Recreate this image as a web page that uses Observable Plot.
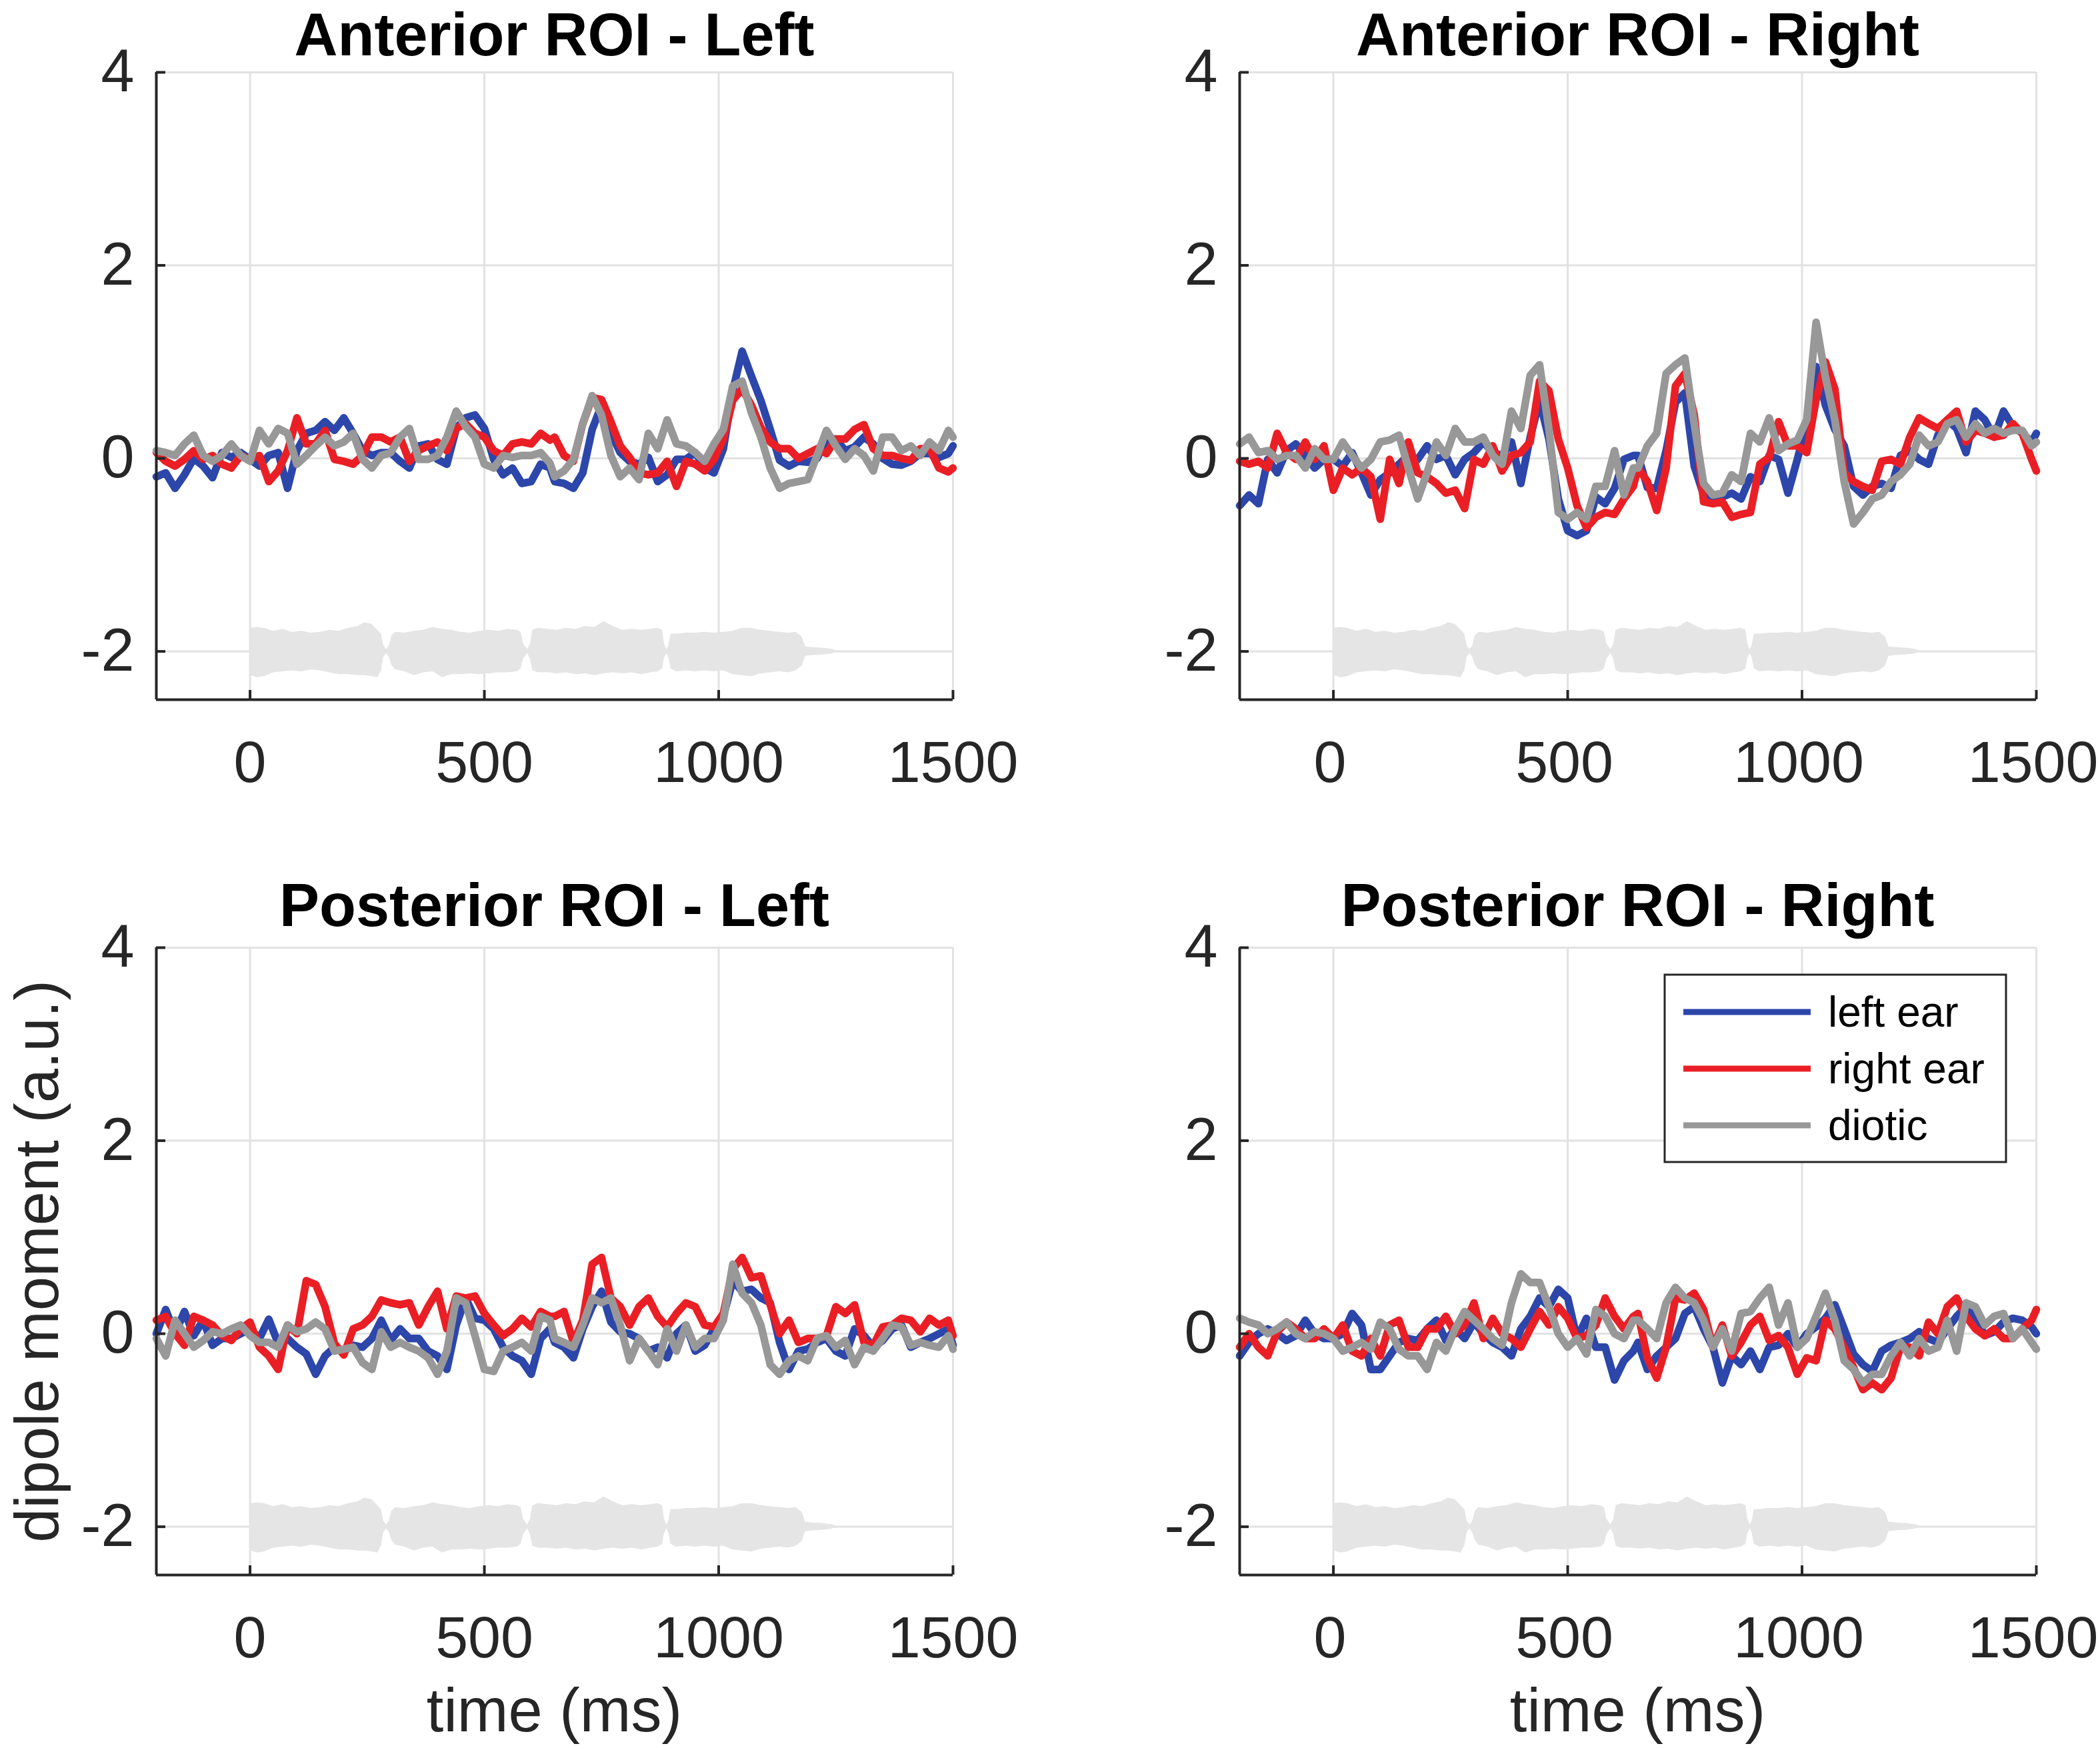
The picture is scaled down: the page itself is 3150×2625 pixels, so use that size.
<!DOCTYPE html>
<html><head><meta charset="utf-8">
<script src="https://cdn.jsdelivr.net/npm/d3@7"></script>
<script src="https://cdn.jsdelivr.net/npm/@observablehq/plot@0.6"></script>
<style>
html,body{margin:0;padding:0;background:#fff;}
#page{position:relative;width:3150px;height:2625px;background:#fff;overflow:hidden;font-family:"Liberation Sans",Arial,Helvetica,sans-serif;}
.panel{position:absolute;}
#overlay{position:absolute;left:0;top:0;}
</style></head><body><div id="page"></div>
<script>
// ---------- data ----------
const xDomain = [-200, 1500];
const yDomain = [-2.5, 4];
const xTicks = [0, 500, 1000, 1500];
const yTicks = [-2, 0, 2, 4];
const seriesNames = ["left ear", "right ear", "diotic"];
const panelTitles = ["Anterior ROI - Left", "Anterior ROI - Right", "Posterior ROI - Left", "Posterior ROI - Right"];
const yLabel = "dipole moment (a.u.)";
const xLabel = "time (ms)";

const T = [-200,-180,-160,-140,-120,-100,-80,-60,-40,-20,
0,20,40,60,80,100,120,140,160,180,
200,220,240,260,280,300,320,340,360,380,
400,420,440,460,480,500,520,540,560,580,
600,620,640,
650,670,690,710,730,750,770,790,810,830,
850,870,890,910,930,950,970,990,1010,1030,
1050,1070,1090,1110,1130,1150,1170,1190,1210,1230,
1250,1270,1290,1310,1330,1350,1370,1390,1410,1430,
1450,1470,1490,
1500];

const antL_leftEar = [-0.19,-0.15,-0.31,-0.17,0.00,-0.08,-0.20,0.06,0.01,0.06,
-0.01,-0.08,0.03,0.06,-0.31,0.08,0.26,0.29,0.38,0.29,
0.42,0.26,0.08,0.03,0.06,0.06,-0.03,-0.10,0.13,0.15,
-0.01,-0.06,0.31,0.42,0.45,0.31,-0.01,-0.17,-0.10,-0.26,
-0.24,-0.06,-0.10,
-0.24,-0.26,-0.31,-0.15,0.30,0.55,0.26,0.06,-0.03,-0.06,
0.01,-0.24,-0.17,-0.01,-0.01,0.06,-0.10,-0.15,0.10,0.70,
1.11,0.85,0.60,0.30,-0.02,-0.08,-0.03,-0.04,0.00,0.20,
0.20,0.08,0.12,0.22,0.15,0.00,-0.06,-0.07,-0.03,0.05,
0.05,0.01,0.05,
0.13];
const antL_rightEar = [0.06,-0.03,-0.08,-0.01,0.08,-0.01,0.03,-0.06,-0.10,0.03,
-0.01,0.03,-0.24,-0.13,0.08,0.42,0.15,0.15,0.29,-0.01,
-0.03,-0.06,0.03,0.22,0.22,0.17,0.22,-0.03,0.08,0.13,
0.17,0.08,0.31,0.36,0.26,0.22,0.08,0.03,0.15,0.17,
0.15,0.26,0.19,
0.22,0.03,-0.03,0.36,0.63,0.61,0.38,0.13,0.01,-0.15,
-0.17,-0.15,-0.03,-0.29,-0.03,-0.06,-0.13,-0.01,0.20,0.60,
0.72,0.55,0.32,0.17,0.10,0.10,0.00,0.05,0.10,0.05,
0.20,0.20,0.30,0.35,0.10,0.03,0.03,0.00,-0.02,0.10,
0.10,-0.10,-0.14,
-0.10];
const antL_diotic = [0.08,0.06,0.03,0.15,0.24,0.03,-0.03,0.03,0.15,0.03,
-0.03,0.29,0.15,0.31,0.26,-0.06,0.03,0.13,0.22,0.13,
0.17,0.26,-0.01,-0.10,0.03,0.06,0.22,0.31,-0.01,-0.01,
0.03,0.22,0.49,0.33,0.22,-0.06,-0.10,0.03,0.01,0.03,
0.03,0.06,-0.05,
-0.19,-0.13,-0.01,0.36,0.65,0.45,0.03,-0.19,-0.10,-0.22,
0.26,0.10,0.40,0.15,0.13,0.06,-0.03,0.15,0.30,0.75,
0.80,0.47,0.22,-0.10,-0.31,-0.26,-0.24,-0.22,0.03,0.29,
0.13,-0.01,0.10,0.03,-0.13,0.22,0.22,0.08,0.13,0.03,
0.17,0.08,0.29,
0.22];

const antR_leftEar = [-0.49,-0.38,-0.47,-0.01,-0.15,0.08,0.15,0.03,-0.10,-0.01,
-0.01,-0.08,0.06,-0.15,-0.38,-0.22,-0.15,-0.06,0.03,-0.01,
0.13,-0.01,0.03,-0.17,-0.01,0.06,0.17,0.06,0.03,0.17,
-0.26,0.22,0.60,0.20,-0.42,-0.75,-0.80,-0.75,-0.40,-0.47,
-0.31,-0.01,0.03,
0.03,-0.30,-0.31,0.08,0.58,0.68,-0.08,-0.38,-0.42,-0.40,
-0.36,-0.42,-0.19,-0.24,0.03,-0.01,-0.36,-0.01,0.36,0.95,
0.55,0.30,0.13,-0.29,-0.38,-0.29,-0.26,-0.31,0.03,0.08,
-0.01,-0.06,0.24,0.40,0.31,0.06,0.49,0.40,0.22,0.49,
0.33,0.26,0.17,
0.26];
const antR_rightEar = [-0.03,-0.06,-0.03,-0.10,0.26,0.06,-0.01,0.17,-0.01,0.13,
-0.33,-0.10,-0.17,-0.10,-0.19,-0.63,-0.01,-0.26,0.17,-0.15,
-0.19,-0.26,-0.36,-0.33,-0.52,-0.01,-0.06,0.13,-0.13,0.03,
0.06,0.17,0.80,0.70,0.20,-0.10,-0.49,-0.72,-0.61,-0.56,
-0.58,-0.42,-0.29,
-0.10,-0.24,-0.54,-0.10,0.75,0.88,0.45,-0.45,-0.47,-0.45,
-0.61,-0.58,-0.56,-0.06,0.01,0.38,0.13,0.13,0.06,0.61,
1.00,0.72,-0.15,-0.24,-0.29,-0.33,-0.03,-0.01,-0.06,0.22,
0.42,0.36,0.31,0.40,0.49,0.17,0.29,0.26,0.22,0.24,
0.36,0.26,-0.01,
-0.13];
const antR_diotic = [0.15,0.22,0.06,0.08,-0.01,0.03,0.03,-0.10,0.10,-0.01,
-0.01,0.17,0.03,-0.10,-0.01,0.17,0.19,0.24,-0.10,-0.42,
-0.15,0.17,0.03,0.31,0.17,0.17,0.22,0.03,-0.06,0.49,
0.31,0.86,0.97,0.30,-0.56,-0.63,-0.56,-0.63,-0.29,-0.29,
0.08,-0.38,-0.10,
-0.10,0.13,0.26,0.88,0.97,1.04,0.36,-0.26,-0.38,-0.36,
-0.17,-0.24,0.26,0.17,0.42,0.08,0.15,0.19,0.40,1.41,
0.84,0.40,-0.24,-0.68,-0.56,-0.42,-0.38,-0.24,-0.17,-0.06,
0.24,0.13,0.17,0.36,0.40,0.22,0.36,0.26,0.31,0.26,
0.29,0.29,0.13,
0.17];

const posL_leftEar = [0.00,0.25,0.00,0.23,-0.02,0.14,-0.12,-0.05,-0.05,0.00,
0.05,-0.05,0.15,-0.10,-0.05,-0.14,-0.21,-0.42,-0.23,-0.14,
-0.18,-0.12,-0.14,-0.05,0.14,-0.07,0.05,-0.05,-0.05,-0.18,
-0.23,-0.37,0.09,0.37,0.16,0.14,0.05,-0.14,-0.23,-0.28,
-0.42,-0.05,0.05,
-0.09,-0.14,-0.25,0.05,0.28,0.44,0.12,0.02,0.00,-0.05,
-0.18,-0.14,-0.25,0.00,0.09,-0.18,-0.12,0.05,0.18,0.55,
0.44,0.46,0.37,0.32,-0.09,-0.37,-0.18,-0.16,-0.09,-0.05,
-0.18,-0.23,0.05,-0.02,-0.14,-0.07,0.05,0.09,-0.14,-0.09,
-0.05,0.00,0.05,
-0.12];
const posL_rightEar = [0.14,0.18,0.00,-0.12,0.18,0.14,0.09,-0.02,-0.07,0.05,
0.12,-0.14,-0.23,-0.37,0.09,0.00,0.55,0.51,0.28,-0.10,
-0.22,0.05,0.09,0.18,0.35,0.32,0.30,0.32,0.09,0.28,
0.44,0.05,0.39,0.37,0.39,0.21,0.09,-0.02,0.05,0.16,
0.07,0.23,0.18,
0.18,0.23,-0.09,0.14,0.72,0.79,0.37,0.28,0.09,0.28,
0.37,0.18,0.07,0.21,0.32,0.28,0.09,0.07,0.21,0.67,
0.79,0.58,0.60,0.30,0.00,0.14,-0.09,-0.05,-0.05,-0.02,
0.28,0.21,0.30,-0.09,-0.12,0.07,0.09,0.16,0.14,0.02,
0.16,0.09,0.14,
-0.02];
const posL_diotic = [-0.05,-0.23,0.14,0.00,-0.14,-0.07,0.02,0.00,0.05,0.09,
-0.02,-0.09,-0.09,-0.14,0.09,0.02,0.05,0.12,0.05,-0.18,
-0.16,-0.14,-0.30,-0.37,0.02,-0.14,-0.09,-0.14,-0.18,-0.25,
-0.42,-0.18,0.37,0.32,-0.02,-0.37,-0.39,-0.18,-0.14,-0.09,
-0.18,0.18,0.14,
-0.05,-0.09,-0.14,0.09,0.37,0.32,0.37,0.09,-0.28,-0.05,
-0.18,-0.32,0.05,-0.18,0.09,-0.14,-0.05,-0.05,0.14,0.72,
0.42,0.32,0.09,-0.32,-0.42,-0.28,-0.23,-0.28,-0.05,-0.02,
-0.14,-0.07,-0.32,-0.14,-0.18,-0.05,0.09,0.07,-0.12,-0.09,
-0.12,-0.14,-0.02,
-0.16];

const posR_leftEar = [-0.23,-0.09,0.00,0.05,0.00,-0.07,-0.02,0.14,0.00,-0.05,
-0.05,0.00,0.21,0.09,-0.37,-0.37,-0.23,-0.09,-0.05,-0.07,
0.05,0.14,-0.07,0.05,-0.05,0.12,0.00,-0.09,-0.14,-0.23,
0.05,0.18,0.37,0.28,0.46,0.37,-0.05,0.16,-0.14,-0.14,
-0.48,-0.28,-0.18,
-0.09,-0.37,-0.23,-0.14,-0.05,0.21,0.28,0.05,-0.14,-0.51,
-0.23,-0.32,-0.18,-0.37,-0.14,-0.12,0.00,-0.14,0.00,0.07,
0.16,0.30,0.05,-0.21,-0.32,-0.39,-0.18,-0.12,-0.09,-0.05,
0.02,-0.05,-0.09,0.05,0.18,0.28,0.18,-0.02,0.02,0.12,
0.16,0.14,0.07,
0.00];
const posR_rightEar = [-0.14,0.00,-0.14,-0.23,0.02,0.12,0.05,-0.05,-0.05,0.05,
-0.05,0.09,-0.18,-0.23,-0.05,-0.23,0.09,0.14,-0.14,-0.14,
0.05,0.05,0.18,0.00,0.09,0.32,-0.05,0.16,0.00,-0.05,
-0.14,0.05,0.23,0.09,0.28,0.16,-0.05,-0.02,0.09,0.37,
0.18,0.05,0.18,
0.21,-0.25,-0.46,-0.14,0.37,0.35,0.42,0.25,-0.14,0.09,
-0.23,-0.09,0.09,0.18,-0.07,-0.02,-0.14,-0.42,-0.25,-0.28,
0.14,0.05,-0.14,-0.35,-0.58,-0.51,-0.58,-0.46,-0.14,-0.14,
-0.23,0.12,0.00,0.28,0.37,0.18,0.05,-0.02,0.05,-0.05,
-0.05,0.05,0.14,
0.25];
const posR_diotic = [0.16,0.12,0.09,0.00,0.05,0.12,0.00,-0.05,0.02,0.00,
-0.05,-0.18,-0.14,-0.09,-0.16,0.12,0.05,-0.16,-0.23,-0.23,
-0.37,-0.09,-0.18,0.05,0.23,0.14,0.05,-0.05,-0.12,0.32,
0.62,0.53,0.53,0.28,0.00,-0.14,-0.05,-0.21,0.25,0.18,
0.00,-0.05,0.14,
0.14,0.05,-0.05,0.32,0.48,0.37,0.32,0.14,-0.14,0.05,
-0.18,0.21,0.23,0.37,0.48,0.09,0.32,-0.14,-0.05,0.18,
0.42,0.14,-0.28,-0.37,-0.51,-0.42,-0.42,-0.23,-0.09,-0.23,
-0.05,-0.18,-0.14,0.14,-0.18,0.32,0.28,0.09,0.18,0.21,
-0.05,0.05,-0.09,
-0.16];

// stimulus waveform envelope (drawn around baseline -2)
const envBase = -2;
const envT = [0,2,15,30,50,70,90,110,130,150,
170,190,210,230,245,260,272,280,285,291,
297,302,310,330,350,370,390,410,430,450,
470,490,510,530,550,570,578,583,592,598,
603,615,635,655,675,695,715,735,755,775,
795,815,835,855,870,880,884,889,893,898,
910,930,950,970,990,1010,1030,1050,1070,1090,
1110,1130,1150,1165,1178,1185,1200,1220,1240,1250];
const envHi = [0.02,0.24,0.25,0.24,0.21,0.23,0.20,0.21,0.19,0.20,
0.22,0.21,0.24,0.26,0.30,0.28,0.22,0.18,0.06,0.02,
0.06,0.16,0.20,0.19,0.21,0.22,0.25,0.23,0.22,0.20,
0.19,0.21,0.22,0.21,0.23,0.22,0.20,0.08,0.02,0.08,
0.22,0.24,0.23,0.22,0.24,0.23,0.26,0.25,0.31,0.26,
0.22,0.23,0.22,0.23,0.24,0.22,0.08,0.02,0.06,0.18,
0.18,0.19,0.19,0.20,0.19,0.20,0.21,0.24,0.24,0.22,
0.21,0.20,0.19,0.20,0.15,0.05,0.04,0.035,0.025,0.01];
const envLo = [-0.02,-0.25,-0.27,-0.26,-0.22,-0.21,-0.20,-0.21,-0.19,-0.20,
-0.22,-0.24,-0.24,-0.25,-0.25,-0.26,-0.27,-0.20,-0.06,-0.02,
-0.06,-0.14,-0.19,-0.21,-0.25,-0.22,-0.21,-0.27,-0.24,-0.24,
-0.23,-0.24,-0.23,-0.22,-0.22,-0.21,-0.18,-0.08,-0.02,-0.08,
-0.20,-0.22,-0.22,-0.23,-0.22,-0.24,-0.23,-0.25,-0.23,-0.22,
-0.23,-0.22,-0.24,-0.22,-0.21,-0.18,-0.07,-0.02,-0.06,-0.18,
-0.21,-0.20,-0.21,-0.20,-0.21,-0.20,-0.24,-0.25,-0.26,-0.23,
-0.22,-0.21,-0.22,-0.20,-0.15,-0.05,-0.04,-0.035,-0.025,-0.01];

// ---------- style / layout ----------
const FONT = '"Liberation Sans", Arial, Helvetica, sans-serif';
const seriesColors = ["#2c46aa", "#ea1f25", "#989898"];
const AX = "#262626";
const GRID = "#e2e2e2";
const PW = 1575, PH = 1312, plotW = 1195, plotH = 941, MT = 108;

const panels = [
  {title: panelTitles[0], series: [antL_leftEar, antL_rightEar, antL_diotic], left: 0, top: 0, ml: 234, dx: 0},
  {title: panelTitles[1], series: [antR_leftEar, antR_rightEar, antR_diotic], left: 1575, top: 0, ml: 284, dx: -5},
  {title: panelTitles[2], series: [posL_leftEar, posL_rightEar, posL_diotic], left: 0, top: 1313, ml: 234, dx: 0},
  {title: panelTitles[3], series: [posR_leftEar, posR_rightEar, posR_diotic], left: 1575, top: 1313, ml: 284, dx: -5}
];

const page = document.getElementById("page");
const env = envT.map((t, i) => ({t, lo: envBase + envLo[i], hi: envBase + envHi[i]}));
const fmt = d => String(d);

panels.forEach(p => {
  const lineMarks = p.series.map((arr, k) =>
    Plot.lineY(T.map((t, i) => ({t, v: arr[i]})), {
      x: "t", y: "v", stroke: seriesColors[k], strokeWidth: 11.5,
      strokeLinejoin: "round", strokeLinecap: "round"
    })
  );
  const chart = Plot.plot({
    width: PW, height: PH,
    marginLeft: p.ml, marginRight: PW - p.ml - plotW,
    marginTop: MT, marginBottom: PH - MT - plotH,
    x: {domain: xDomain},
    y: {domain: yDomain},
    style: {fontFamily: FONT, fontSize: "88px", color: AX, background: "transparent", overflow: "visible"},
    marks: [
      Plot.gridX(xTicks, {stroke: GRID, strokeOpacity: 1, strokeWidth: 3}),
      Plot.gridY(yTicks, {stroke: GRID, strokeOpacity: 1, strokeWidth: 3}),
      Plot.areaY(env, {x: "t", y1: "lo", y2: "hi", fill: "#e5e5e5"}),
      ...lineMarks,
      Plot.ruleX([xDomain[0]], {stroke: AX, strokeWidth: 4}),
      Plot.ruleY([yDomain[0]], {stroke: AX, strokeWidth: 4}),
      Plot.ruleX(xTicks, {stroke: AX, strokeWidth: 4, insetTop: plotH - 14}),
      Plot.ruleY(yTicks, {stroke: AX, strokeWidth: 4, insetRight: plotW - 14}),
      Plot.axisX(xTicks, {tickSize: 0, tickPadding: 61, fontSize: 88, label: null, tickFormat: fmt, dx: p.dx}),
      Plot.axisY(yTicks, {tickSize: 0, tickPadding: 33, fontSize: 90, label: null, tickFormat: fmt})
    ]
  });
  chart.classList.add("panel");
  chart.style.left = p.left + "px";
  chart.style.top = p.top + "px";
  page.appendChild(chart);
});

// ---------- overlay text: titles, axis labels, legend ----------
const svg = d3.select(page).append("svg")
  .attr("id", "overlay").attr("width", 3150).attr("height", 2625)
  .style("font-family", FONT);

const centers = [831.5, 2456.5];
const titleY = [83, 1389];
panels.forEach((p, i) => {
  svg.append("text")
    .attr("x", centers[i % 2]).attr("y", titleY[Math.floor(i / 2)])
    .attr("text-anchor", "middle").attr("font-size", 90).attr("font-weight", "bold")
    .attr("fill", "#000").text(p.title);
});
centers.forEach(cx => {
  svg.append("text").attr("x", cx).attr("y", 2597)
    .attr("text-anchor", "middle").attr("font-size", 92).attr("fill", AX).text(xLabel);
});
svg.append("text")
  .attr("transform", "translate(87,1892) rotate(-90)")
  .attr("text-anchor", "middle").attr("font-size", 92).attr("fill", AX).text(yLabel);

const lg = svg.append("g");
lg.append("rect").attr("x", 2497).attr("y", 1462).attr("width", 512).attr("height", 281)
  .attr("fill", "#fff").attr("stroke", AX).attr("stroke-width", 3);
const legendY = [1518, 1603, 1688];
seriesNames.forEach((name, k) => {
  lg.append("line").attr("x1", 2525).attr("x2", 2716)
    .attr("y1", legendY[k]).attr("y2", legendY[k])
    .attr("stroke", seriesColors[k]).attr("stroke-width", 9);
  lg.append("text").attr("x", 2742).attr("y", legendY[k]).attr("dy", "0.35em")
    .attr("font-size", 64).attr("fill", "#000").text(name);
});
</script>
</body></html>
